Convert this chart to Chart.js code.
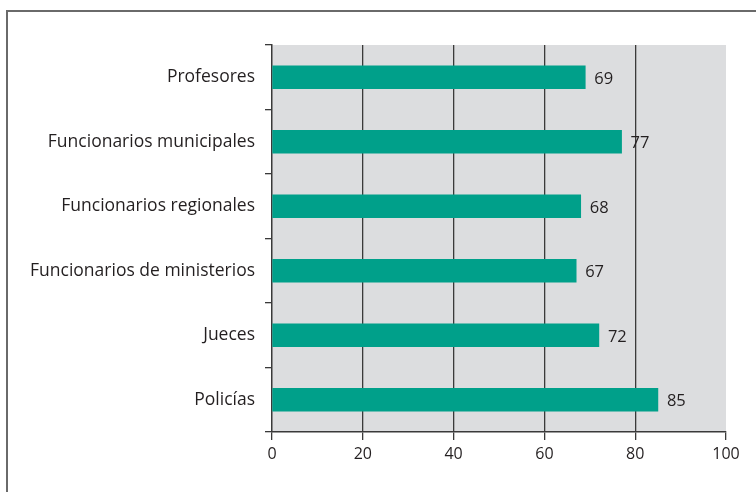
<!DOCTYPE html>
<html>
<head>
<meta charset="utf-8">
<script src="https://cdn.jsdelivr.net/npm/chart.js@4/dist/chart.umd.min.js"></script>
<style>
  html, body { margin: 0; padding: 0; background: #fff; overflow: hidden; }
  #wrap { position: relative; width: 756px; height: 492px; overflow: hidden; }
  #frame { position: absolute; left: 6px; top: 10px; width: 900px; height: 700px;
           border-left: 2px solid #6a6a6a; border-top: 2px solid #6a6a6a; }
  canvas { position: absolute; left: 0; top: 0; }
</style>
</head>
<body>
<div id="wrap">
  <div id="frame"></div>
  <canvas id="c" width="756" height="492"></canvas>
</div>
<script>
const categories = [
  'Profesores',
  'Funcionarios municipales',
  'Funcionarios regionales',
  'Funcionarios de ministerios',
  'Jueces',
  'Policías'
];
const values = [69, 77, 68, 67, 72, 85];
const xTicks = [0, 20, 40, 60, 80, 100];

const FONT = "'Open Sans', 'DejaVu Sans', sans-serif";
const TEXT = '#231f20';
const LINE = '#3a3a3a';

// gray panel behind the bars
const panel = {
  id: 'panel',
  beforeDraw(chart) {
    const { ctx, chartArea: a } = chart;
    ctx.save();
    ctx.fillStyle = '#dcdddf';
    ctx.fillRect(a.left, a.top, a.right - a.left, a.bottom - a.top);
    ctx.restore();
  }
};

// value printed just past the end of each bar
const valueLabels = {
  id: 'valueLabels',
  afterDatasetsDraw(chart) {
    const { ctx } = chart;
    const meta = chart.getDatasetMeta(0);
    ctx.save();
    ctx.font = '16.5px ' + FONT;
    ctx.fillStyle = TEXT;
    ctx.textAlign = 'left';
    ctx.textBaseline = 'middle';
    meta.data.forEach((bar, i) => {
      ctx.fillText(String(values[i]), bar.x + 9, bar.y + 2);
    });
    ctx.restore();
  }
};

new Chart(document.getElementById('c'), {
  type: 'bar',
  data: {
    labels: categories,
    datasets: [{
      data: values,
      backgroundColor: '#00a08a',
      borderWidth: 0,
      barThickness: 23
    }]
  },
  options: {
    indexAxis: 'y',
    responsive: false,
    animation: false,
    events: [],
    layout: { padding: { left: 0, right: 30, top: 45, bottom: 0 } },
    plugins: { legend: { display: false }, tooltip: { enabled: false } },
    scales: {
      x: {
        min: 0,
        max: 100,
        afterBuildTicks(scale) { scale.ticks = xTicks.map(v => ({ value: v })); },
        afterFit(scale) { scale.height = 60; },
        border: { display: true, color: LINE, width: 1.5 },
        grid: {
          drawOnChartArea: true,
          color: ctx => (ctx.tick && (ctx.tick.value === 100 || ctx.tick.value === 0)) ? 'rgba(0,0,0,0)' : LINE,
          tickColor: LINE,
          lineWidth: 1.3,
          tickLength: 8
        },
        ticks: { color: TEXT, font: { family: FONT, size: 16 }, padding: 5 }
      },
      y: {
        afterFit(scale) { scale.width = 272; },
        border: { display: true, color: LINE, width: 1.5 },
        grid: {
          offset: true,
          drawOnChartArea: false,
          color: LINE,
          tickColor: LINE,
          lineWidth: 1.3,
          tickLength: 7
        },
        ticks: { color: TEXT, font: { family: FONT, size: 17.5 }, padding: 10 }
      }
    }
  },
  plugins: [panel, valueLabels]
});
</script>
</body>
</html>
